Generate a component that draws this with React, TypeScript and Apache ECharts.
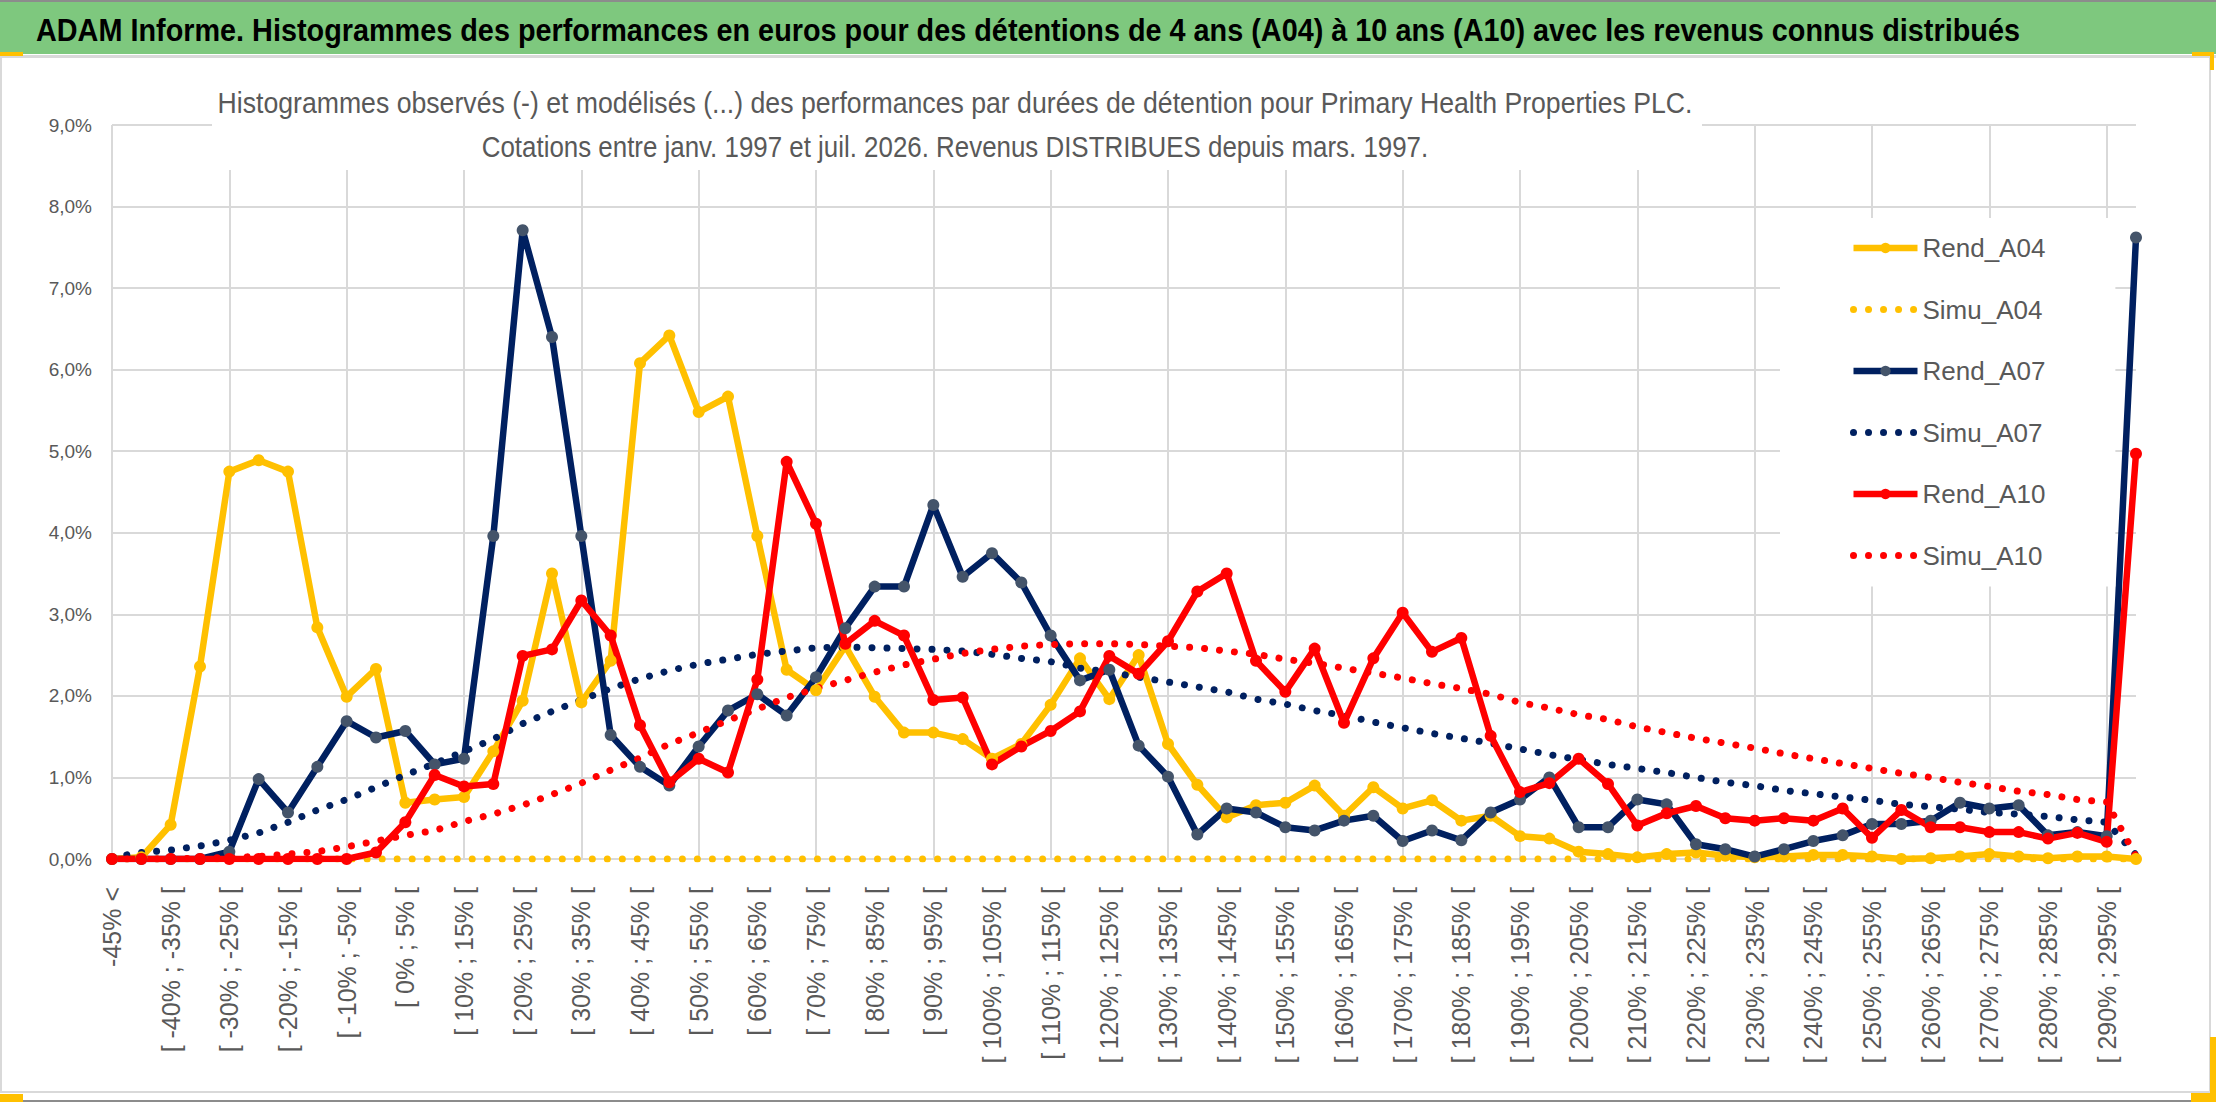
import React, { useEffect, useRef } from 'react';
import * as echarts from 'echarts';

// classes of performance (5 % bins), first and last are catch-all bins
const categories = [
  '-45% <', '[ -45% ; -40% [', '[ -40% ; -35% [', '[ -35% ; -30% [', '[ -30% ; -25% [',
  '[ -25% ; -20% [', '[ -20% ; -15% [', '[ -15% ; -10% [', '[ -10% ; -5% [', '[ -5% ; 0% [',
  '[ 0% ; 5% [', '[ 5% ; 10% [', '[ 10% ; 15% [', '[ 15% ; 20% [', '[ 20% ; 25% [',
  '[ 25% ; 30% [', '[ 30% ; 35% [', '[ 35% ; 40% [', '[ 40% ; 45% [', '[ 45% ; 50% [',
  '[ 50% ; 55% [', '[ 55% ; 60% [', '[ 60% ; 65% [', '[ 65% ; 70% [', '[ 70% ; 75% [',
  '[ 75% ; 80% [', '[ 80% ; 85% [', '[ 85% ; 90% [', '[ 90% ; 95% [', '[ 95% ; 100% [',
  '[ 100% ; 105% [', '[ 105% ; 110% [', '[ 110% ; 115% [', '[ 115% ; 120% [', '[ 120% ; 125% [',
  '[ 125% ; 130% [', '[ 130% ; 135% [', '[ 135% ; 140% [', '[ 140% ; 145% [', '[ 145% ; 150% [',
  '[ 150% ; 155% [', '[ 155% ; 160% [', '[ 160% ; 165% [', '[ 165% ; 170% [', '[ 170% ; 175% [',
  '[ 175% ; 180% [', '[ 180% ; 185% [', '[ 185% ; 190% [', '[ 190% ; 195% [', '[ 195% ; 200% [',
  '[ 200% ; 205% [', '[ 205% ; 210% [', '[ 210% ; 215% [', '[ 215% ; 220% [', '[ 220% ; 225% [',
  '[ 225% ; 230% [', '[ 230% ; 235% [', '[ 235% ; 240% [', '[ 240% ; 245% [', '[ 245% ; 250% [',
  '[ 250% ; 255% [', '[ 255% ; 260% [', '[ 260% ; 265% [', '[ 265% ; 270% [', '[ 270% ; 275% [',
  '[ 275% ; 280% [', '[ 280% ; 285% [', '[ 285% ; 290% [', '[ 290% ; 295% [', '> 295%'
];

// frequencies in %
const rendA04 = [
  0, 0.02, 0.42, 2.36, 4.75, 4.89, 4.75, 2.84, 1.99, 2.33,
  0.69, 0.73, 0.76, 1.32, 1.94, 3.5, 1.92, 2.43, 6.08, 6.42,
  5.48, 5.67, 3.96, 2.32, 2.07, 2.61, 1.99, 1.55, 1.55, 1.47,
  1.23, 1.41, 1.89, 2.46, 1.96, 2.5, 1.41, 0.91, 0.51, 0.66,
  0.69, 0.9, 0.53, 0.88, 0.62, 0.72, 0.47, 0.53, 0.28, 0.25,
  0.09, 0.06, 0.02, 0.06, 0.08, 0.04, 0.02, 0.03, 0.05, 0.05,
  0.03, 0, 0.01, 0.03, 0.06, 0.03, 0.01, 0.03, 0.03, 0
];
const simuA04 = [
  0, 0, 0, 0, 0, 0, 0, 0, 0, 0,
  0, 0, 0, 0, 0, 0, 0, 0, 0, 0,
  0, 0, 0, 0, 0, 0, 0, 0, 0, 0,
  0, 0, 0, 0, 0, 0, 0, 0, 0, 0,
  0, 0, 0, 0, 0, 0, 0, 0, 0, 0,
  0, 0, 0, 0, 0, 0, 0, 0, 0, 0,
  0, 0, 0, 0, 0, 0, 0, 0, 0, 0
];
const rendA07 = [
  0, 0, 0, 0, 0.09, 0.98, 0.57, 1.13, 1.69, 1.49,
  1.57, 1.16, 1.23, 3.96, 7.71, 6.4, 3.96, 1.52, 1.13, 0.9,
  1.38, 1.82, 2.02, 1.76, 2.23, 2.83, 3.34, 3.34, 4.34, 3.46,
  3.75, 3.39, 2.74, 2.19, 2.32, 1.39, 1.01, 0.3, 0.62, 0.57,
  0.39, 0.35, 0.47, 0.53, 0.22, 0.35, 0.23, 0.57, 0.73, 1.0,
  0.39, 0.39, 0.73, 0.67, 0.18, 0.12, 0.03, 0.12, 0.22, 0.29,
  0.43, 0.43, 0.47, 0.69, 0.62, 0.66, 0.29, 0.33, 0.28, 7.62
];
const simuA07 = [
  0.02, 0.08, 0.11, 0.16, 0.23, 0.32, 0.45, 0.6, 0.73, 0.88,
  1.03, 1.17, 1.32, 1.47, 1.66, 1.81, 1.95, 2.09, 2.21, 2.31,
  2.39, 2.45, 2.51, 2.55, 2.59, 2.6, 2.59, 2.58, 2.57, 2.55,
  2.51, 2.46, 2.42, 2.34, 2.29, 2.23, 2.17, 2.11, 2.05, 1.96,
  1.9, 1.82, 1.76, 1.68, 1.61, 1.54, 1.48, 1.42, 1.35, 1.28,
  1.22, 1.16, 1.11, 1.06, 1.0, 0.94, 0.9, 0.84, 0.8, 0.76,
  0.72, 0.67, 0.64, 0.61, 0.57, 0.55, 0.52, 0.48, 0.45, 0.05
];
const rendA10 = [
  0, 0, 0, 0, 0, 0, 0, 0, 0, 0.08,
  0.45, 1.03, 0.89, 0.92, 2.49, 2.57, 3.17, 2.74, 1.64, 0.94,
  1.23, 1.06, 2.2, 4.87, 4.11, 2.64, 2.92, 2.74, 1.95, 1.98,
  1.16, 1.38, 1.57, 1.81, 2.49, 2.27, 2.67, 3.28, 3.5, 2.43,
  2.05, 2.58, 1.67, 2.46, 3.02, 2.54, 2.71, 1.51, 0.82, 0.93,
  1.23, 0.92, 0.41, 0.56, 0.65, 0.5, 0.47, 0.5, 0.47, 0.62,
  0.26, 0.6, 0.39, 0.39, 0.33, 0.33, 0.25, 0.32, 0.21, 4.97
];
const simuA10 = [
  0, 0, 0, 0.01, 0.02, 0.03, 0.06, 0.09, 0.15, 0.22,
  0.29, 0.35, 0.46, 0.55, 0.66, 0.79, 0.93, 1.09, 1.24, 1.41,
  1.55, 1.7, 1.84, 1.98, 2.09, 2.19, 2.29, 2.38, 2.45, 2.52,
  2.57, 2.61, 2.63, 2.64, 2.64, 2.63, 2.61, 2.59, 2.55, 2.51,
  2.45, 2.4, 2.34, 2.28, 2.22, 2.15, 2.09, 2.02, 1.92, 1.85,
  1.77, 1.71, 1.62, 1.55, 1.48, 1.42, 1.36, 1.29, 1.23, 1.17,
  1.11, 1.05, 1.0, 0.94, 0.89, 0.83, 0.79, 0.73, 0.7, 0.03
];

const mainTitle =
  'ADAM Informe. Histogrammes des performances en euros pour des détentions de 4 ans (A04) à 10 ans (A10) avec les revenus connus distribués';
const subTitle1 =
  'Histogrammes observés (-) et modélisés (...) des performances par durées de détention pour Primary Health Properties PLC.';
const subTitle2 = 'Cotations entre janv. 1997 et juil. 2026. Revenus DISTRIBUES depuis mars. 1997.';

const SANS = '"Liberation Sans", Arial, sans-serif';
const GRID_GREY = '#d9d9d9';
const TEXT_GREY = '#595959';
const GOLD = '#FFC000';
const NAVY = '#002060';
const RED = '#FF0000';

const REND_LINE = { width: 6.5 };
const SIMU_LINE = { width: 7, type: [0.01, 15], cap: 'round' };

// the reference uses a condensed face: squeeze a normal one to the same width
const measure = (text: string, font: string) => {
  const ctx = document.createElement('canvas').getContext('2d');
  if (!ctx) return 1;
  ctx.font = font;
  return ctx.measureText(text).width || 1;
};

const rendSeries = (name: string, data: number[], lineColor: string, markerColor: string) => ({
  name,
  type: 'line',
  data,
  symbol: 'circle',
  symbolSize: 12,
  lineStyle: { color: lineColor, ...REND_LINE },
  itemStyle: { color: markerColor },
  emphasis: { disabled: true }
});

const simuSeries = (name: string, data: number[], color: string) => ({
  name,
  type: 'line',
  data,
  symbol: 'none',
  lineStyle: { color, ...SIMU_LINE },
  itemStyle: { color },
  emphasis: { disabled: true }
});

const App: React.FC = () => {
  const chartRef = useRef<HTMLDivElement>(null);

  useEffect(() => {
    document.body.style.margin = '0';
    if (!chartRef.current) return;

    const chart = echarts.init(chartRef.current, undefined, { renderer: 'svg' });

    const titleFont = `bold 32px ${SANS}`;
    const subFont = `29px ${SANS}`;
    const titleScale = 1985 / measure(mainTitle, titleFont);
    const sub1Scale = 1475 / measure(subTitle1, subFont);
    const sub2Scale = 947 / measure(subTitle2, subFont);

    const rendItem = (name: string, color: string) => ({ name, lineStyle: { color, ...REND_LINE } });
    const simuItem = (name: string, color: string) => ({
      name,
      itemStyle: { opacity: 0 },
      lineStyle: { color, ...SIMU_LINE }
    });

    const options: any = {
      animation: false,
      backgroundColor: '#fff',
      grid: { left: 112, right: 80, top: 125, bottom: 243 },
      legend: {
        orient: 'vertical',
        left: 1780,
        top: 218,
        padding: [12, 70, 13, 70],
        backgroundColor: '#fff',
        itemWidth: 64,
        itemHeight: 13,
        itemGap: 25.5,
        textStyle: { fontFamily: SANS, fontSize: 26, color: TEXT_GREY, lineHeight: 36 },
        data: [
          rendItem('Rend_A04', GOLD),
          simuItem('Simu_A04', GOLD),
          rendItem('Rend_A07', NAVY),
          simuItem('Simu_A07', NAVY),
          rendItem('Rend_A10', RED),
          simuItem('Simu_A10', RED)
        ]
      },
      xAxis: {
        type: 'category',
        boundaryGap: false,
        data: categories,
        axisLine: { show: false },
        axisTick: { show: false },
        axisLabel: {
          interval: 1,
          rotate: 90,
          margin: 28,
          fontFamily: SANS,
          fontSize: 25,
          color: TEXT_GREY
        },
        splitLine: { show: true, interval: 3, lineStyle: { color: GRID_GREY, width: 2 } }
      },
      yAxis: {
        type: 'value',
        min: 0,
        max: 9,
        interval: 1,
        axisLine: { show: false },
        axisTick: { show: false },
        axisLabel: {
          margin: 20,
          fontFamily: SANS,
          fontSize: 19,
          color: TEXT_GREY,
          formatter: (v: number) => v.toFixed(1).replace('.', ',') + '%'
        },
        splitLine: { lineStyle: { color: GRID_GREY, width: 2 } }
      },
      graphic: [
        // green title band
        { type: 'rect', z: 50, shape: { x: 0, y: 0, width: 2216, height: 54 }, style: { fill: '#7ec87e' } },
        { type: 'rect', z: 51, shape: { x: 0, y: 0, width: 2216, height: 2 }, style: { fill: '#8c8c8c' } },
        { type: 'rect', z: 50, shape: { x: 0, y: 55, width: 2216, height: 3 }, style: { fill: GRID_GREY } },
        {
          type: 'text', z: 52, x: 36, y: 29, scaleX: titleScale,
          style: { text: mainTitle, fill: '#000', font: titleFont, verticalAlign: 'middle' }
        },
        // frame of the chart area
        {
          type: 'rect', z: 50, shape: { x: 1, y: 57, width: 2209, height: 1035 },
          style: { fill: 'none', stroke: GRID_GREY, lineWidth: 2 }
        },
        { type: 'rect', z: 50, shape: { x: 0, y: 1100, width: 2216, height: 2 }, style: { fill: '#8c8c8c' } },
        // subtitle box over the grid
        { type: 'rect', z: 50, shape: { x: 212, y: 62, width: 1490, height: 108 }, style: { fill: '#fff' } },
        {
          type: 'text', z: 52, x: 955, y: 103, scaleX: sub1Scale,
          style: { text: subTitle1, fill: TEXT_GREY, font: subFont, align: 'center', verticalAlign: 'middle' }
        },
        {
          type: 'text', z: 52, x: 955, y: 147, scaleX: sub2Scale,
          style: { text: subTitle2, fill: TEXT_GREY, font: subFont, align: 'center', verticalAlign: 'middle' }
        },
        // selection handles
        { type: 'rect', z: 53, shape: { x: 0, y: 52, width: 23, height: 4 }, style: { fill: GOLD } },
        { type: 'rect', z: 53, shape: { x: 2192, y: 52, width: 22, height: 4 }, style: { fill: GOLD } },
        { type: 'rect', z: 53, shape: { x: 2210, y: 52, width: 4, height: 18 }, style: { fill: GOLD } },
        { type: 'rect', z: 53, shape: { x: 0, y: 1094, width: 23, height: 8 }, style: { fill: GOLD } },
        { type: 'rect', z: 53, shape: { x: 2210, y: 1037, width: 6, height: 65 }, style: { fill: GOLD } },
        { type: 'rect', z: 53, shape: { x: 2191, y: 1093, width: 25, height: 9 }, style: { fill: GOLD } }
      ],
      series: [
        rendSeries('Rend_A04', rendA04, GOLD, GOLD),
        simuSeries('Simu_A04', simuA04, GOLD),
        rendSeries('Rend_A07', rendA07, NAVY, '#44546A'),
        simuSeries('Simu_A07', simuA07, NAVY),
        rendSeries('Rend_A10', rendA10, RED, RED),
        simuSeries('Simu_A10', simuA10, RED)
      ]
    };

    chart.setOption(options);

    return () => {
      chart.dispose();
    };
  }, []);

  return <div ref={chartRef} style={{ width: 2216, height: 1102 }} />;
};

export default App;
